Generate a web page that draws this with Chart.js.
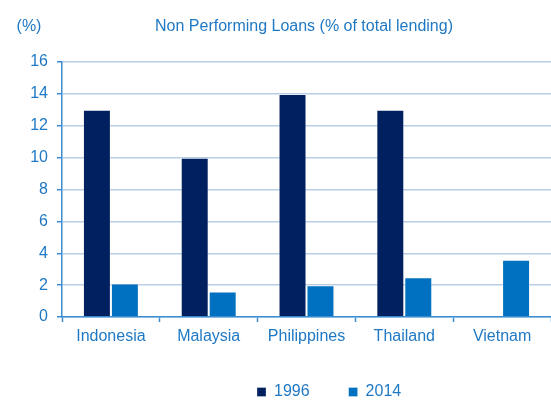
<!DOCTYPE html>
<html>
<head>
<meta charset="utf-8">
<script src="https://cdn.jsdelivr.net/npm/chart.js@4"></script>
<style>
  body { margin: 0; background: #fff; overflow: hidden; }
  #wrap { width: 551px; height: 403px; position: relative; }
</style>
</head>
<body>
<div id="wrap"><canvas id="grafico"></canvas></div>
<script>
const paises = ['Indonesia', 'Malaysia', 'Philippines', 'Thailand', 'Vietnam'];
const npl1996 = [13, 10, 14, 13, null];
const npl2014 = [2.1, 1.6, 2.0, 2.5, 3.6];
const series = ['1996', '2014'];
const yMax = 16;
const yStep = 2;
const titulo = 'Non Performing Loans (% of total lending)';
const unidade = '(%)';

const fonte = 'Liberation Sans, Arial, sans-serif';
const azulTexto = '#1F78C4';
const azulEixo = '#3A8DD3';
const azulGrade = '#B9CDE5';

// title and unit drawn at fixed spots, legend moved under the chart
const textos = {
  id: 'textos',
  afterLayout(chart) {
    const lg = chart.legend;
    lg.left = 218;
    lg.right = 551;
    lg.top = 345;
  },
  afterDraw(chart) {
    const ctx = chart.ctx;
    ctx.save();
    ctx.fillStyle = azulTexto;
    ctx.font = '16px ' + fonte;
    ctx.textBaseline = 'middle';
    ctx.textAlign = 'center';
    ctx.fillText(titulo, 304, 27);
    ctx.fillText(unidade, 29, 27);
    ctx.restore();
  }
};

const ctx = document.getElementById('grafico').getContext('2d');

const myChart = new Chart(ctx, {
  type: 'bar',
  data: {
    labels: paises,
    datasets: [{
      label: series[0],
      data: npl1996,
      backgroundColor: '#002060',
      borderColor: 'rgba(255,255,255,0.3)',
      borderWidth: 1
    }, {
      label: series[1],
      data: npl2014,
      backgroundColor: '#0070C0',
      borderColor: 'rgba(255,255,255,0.3)',
      borderWidth: 1
    }]
  },
  options: {
    responsive: true,
    maintainAspectRatio: false,
    animation: false,
    layout: { padding: { top: 62, right: 0, bottom: 0, left: 0 } },
    datasets: {
      bar: { categoryPercentage: 0.572, barPercentage: 1 }
    },
    plugins: {
      title: { display: false },
      tooltip: { enabled: false },
      legend: {
        position: 'bottom',
        align: 'start',
        maxHeight: 30,
        labels: {
          color: azulTexto,
          font: { family: fonte, size: 16 },
          boxWidth: 9,
          boxHeight: 9,
          padding: 39
        }
      }
    },
    scales: {
      x: {
        afterFit: (s) => { s.height = 56; },
        grid: {
          offset: true,
          drawOnChartArea: false,
          tickLength: 5,
          tickColor: azulEixo,
          tickWidth: 1.5
        },
        border: { color: azulEixo, width: 1.5 },
        ticks: {
          color: azulTexto,
          font: { family: fonte, size: 16 },
          padding: 5,
          maxRotation: 0
        }
      },
      y: {
        min: 0,
        max: yMax,
        afterFit: (s) => { s.width = 62; },
        grid: {
          color: azulGrade,
          lineWidth: 1.5,
          tickLength: 5,
          tickColor: azulEixo
        },
        border: { color: azulEixo, width: 1.5 },
        ticks: {
          stepSize: yStep,
          color: azulTexto,
          font: { family: fonte, size: 16 },
          padding: 9
        }
      }
    }
  },
  plugins: [textos]
});
</script>
</body>
</html>
